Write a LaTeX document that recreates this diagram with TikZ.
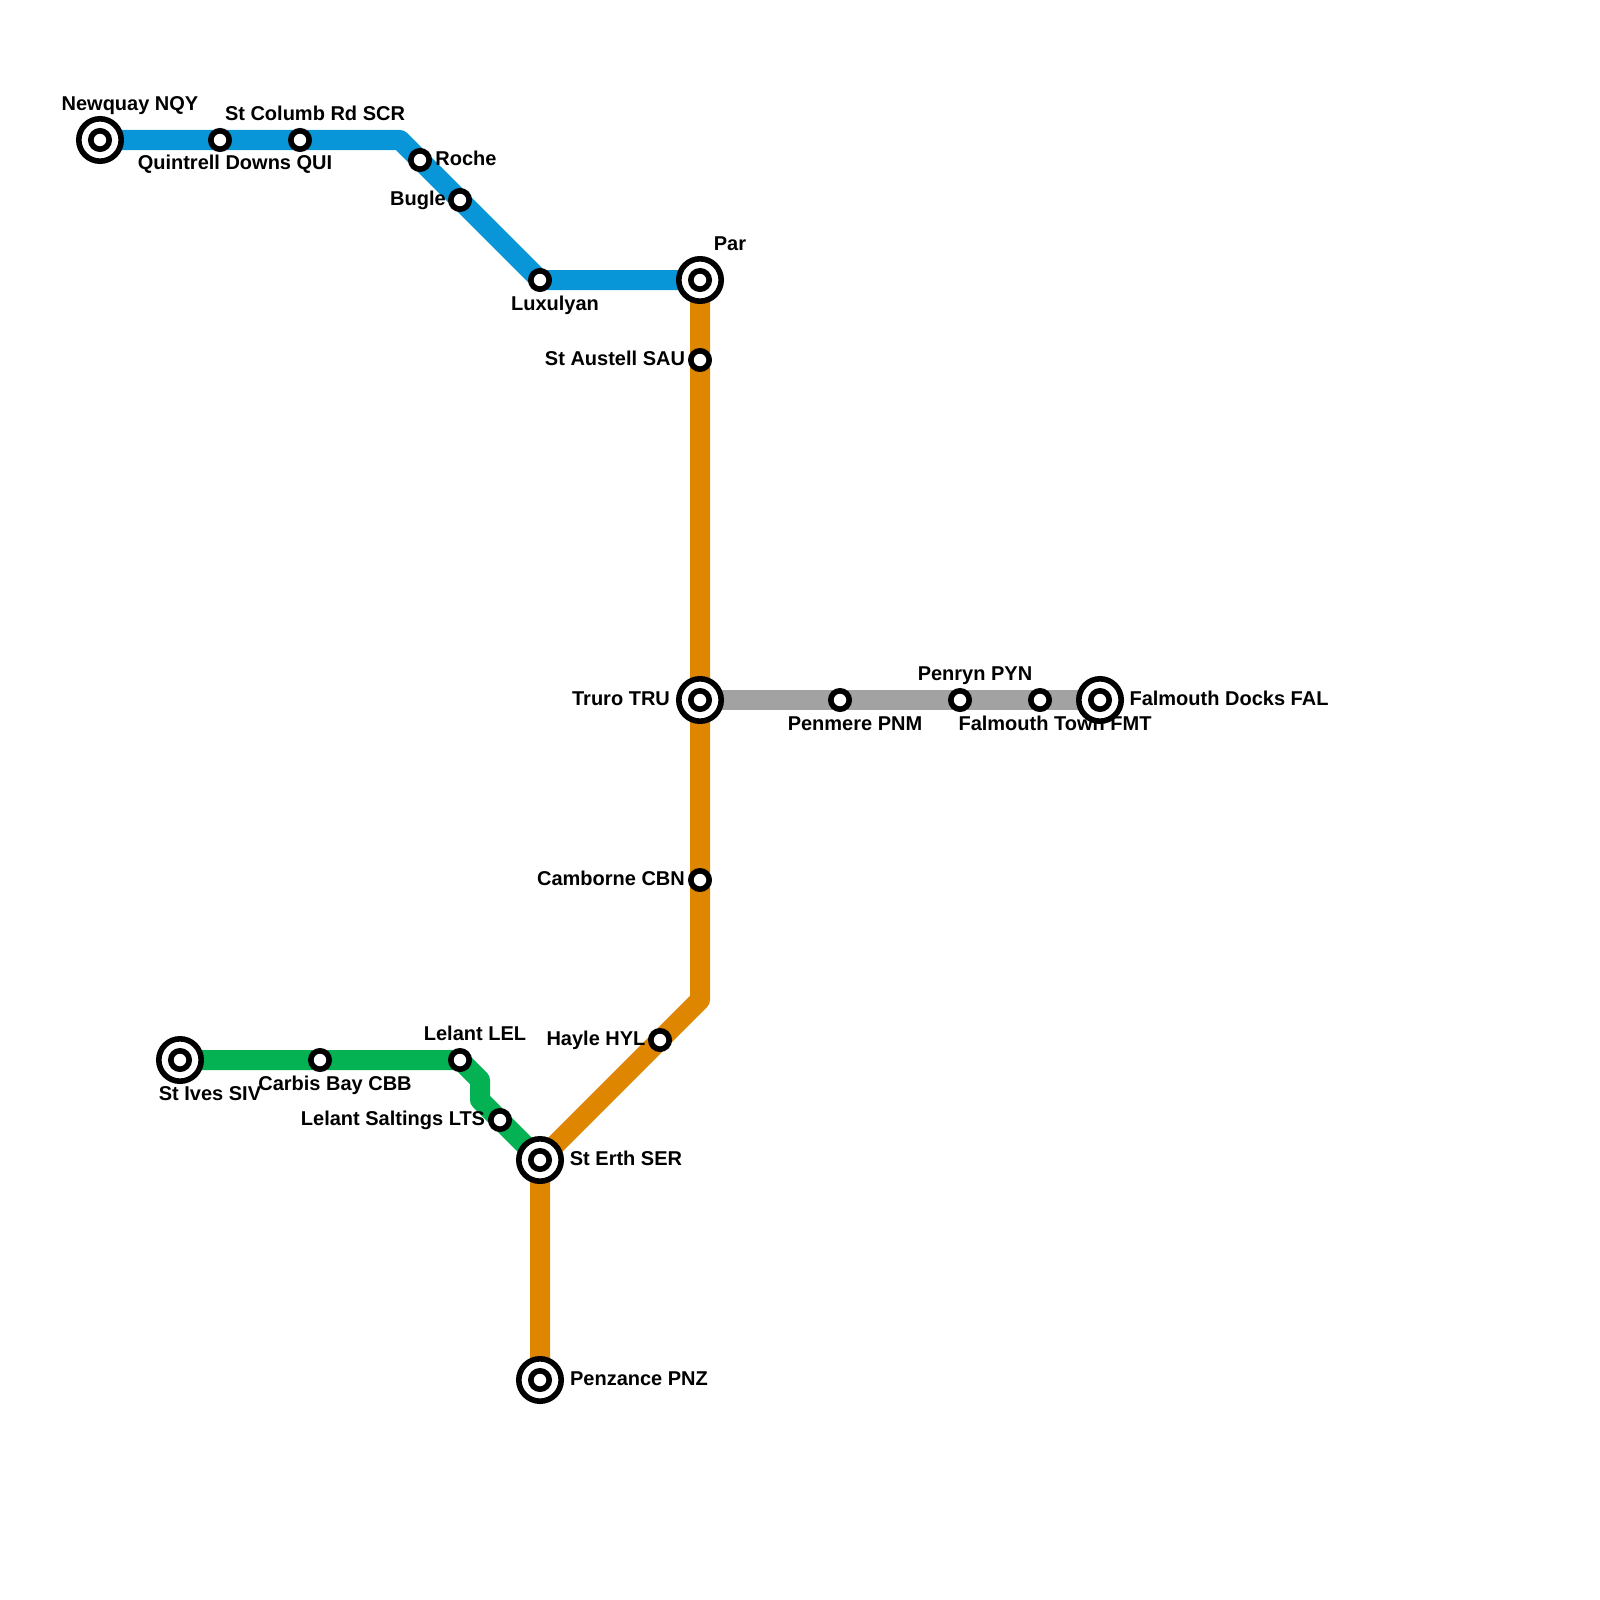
\documentclass[tikz,border=0pt]{standalone}
\usepackage{xcolor}
\usepackage{fontspec}
\setmainfont{Liberation Sans}
\usetikzlibrary{backgrounds}
\definecolor{lnblue}{HTML}{0996D8}
\definecolor{lnorange}{HTML}{DE8600}
\definecolor{lngreen}{HTML}{05B253}
\definecolor{lngrey}{HTML}{A2A2A2}

\begin{document}
\begin{tikzpicture}[
  x=0.5pt, y=-0.5pt,
  font=\fontsize{10pt}{12pt}\selectfont\bfseries,
  stop/.style={circle, draw=black, fill=white, line width=2.8pt, minimum size=9.2pt, inner sep=0pt, outer sep=0pt},
  hub/.style={circle, draw=black, fill=white, line width=2.8pt, minimum size=21.2pt, inner sep=0pt, outer sep=0pt},
  lbl/.style={inner sep=0pt, text height=8pt, text depth=2pt, yshift=-0.7pt},
  route/.style={line width=10pt, line join=round}]
  \useasboundingbox (0,0) rectangle (1600,1600);
  % interchanges and termini
  \foreach \n/\px/\py in {nqy/100/140, par/700/280, tru/700/700, fal/1100/700, siv/180/1060, ser/540/1160, pnz/540/1380} {
    \node[hub] (\n) at (\px,\py) {};
    \node[stop] at (\n) {};
  }
  % ordinary stops
  \foreach \n/\px/\py in {qui/220/140, scr/300/140, roc/420/160, bug/460/200, lux/540/280, sau/700/360,
      pnm/840/700, pyn/960/700, fmt/1040/700, cbn/700/880, hyl/660/1040, cbb/320/1060, lel/460/1060, lts/500/1120}
    \node[stop] (\n) at (\px,\py) {};
  % bends
  \coordinate (b1) at (400,140);
  \coordinate (b2) at (700,1000);
  \coordinate (b3) at (480,1080);
  \coordinate (b4) at (480,1100);
  \begin{pgfonlayer}{background}
    \draw[route, lngrey] (tru.center) -- (fal.center);
    \draw[route, lnblue] (nqy.center) -- (b1) -- (lux.center) -- (par.center);
    \draw[route, lngreen] (siv.center) -- (lel.center) -- (b3) -- (b4) -- (ser.center);
    \draw[route, lnorange] (par.center) -- (b2) -- (ser.center) -- (pnz.center);
  \end{pgfonlayer}
  % station names
  \foreach \n/\dx/\dy/\t in {nqy/30/-37/Newquay NQY, qui/15/22/Quintrell Downs QUI, scr/15/-27/St Columb Rd SCR,
      roc/46/-2/Roche, bug/-42/-2/Bugle, lux/15/23/Luxulyan, par/30/-37/Par, sau/-85/-2/St Austell SAU,
      tru/-79/-2/Truro TRU, pnm/15/23/Penmere PNM, pyn/15/-27/Penryn PYN, fmt/15/23/Falmouth Town FMT,
      fal/129/-2/Falmouth Docks FAL, cbn/-89/-2/Camborne CBN, hyl/-64/-2/Hayle HYL, siv/30/33/St Ives SIV,
      cbb/15/23/Carbis Bay CBB, lel/15/-27/Lelant LEL, lts/-107/-2/Lelant Saltings LTS, ser/86/-2/St Erth SER,
      pnz/99/-2/Penzance PNZ}
    \node[lbl] (\n-lbl) at ([shift={(\dx,\dy)}]\n.center) {\t};
\end{tikzpicture}
\end{document}
